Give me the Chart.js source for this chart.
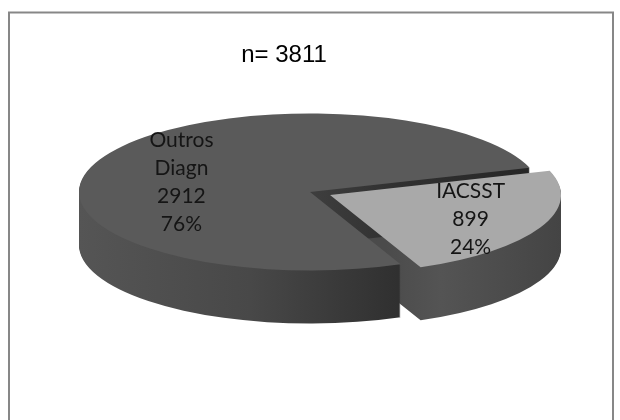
<!DOCTYPE html>
<html>
<head>
<meta charset="utf-8">
<script src="https://cdn.jsdelivr.net/npm/chart.js@4.4.1/dist/chart.umd.min.js"></script>
<style>
  html, body { margin: 0; padding: 0; background: #ffffff; }
  canvas { display: block; }
</style>
</head>
<body>
<canvas id="chart" width="620" height="420"></canvas>
<script>
// Diagnoses split
const categories = ['IACSST', 'Outros Diagn'];
const counts = [899, 2912];

const total = counts.reduce((a, b) => a + b, 0);

// 3D look of the pie: tilt of the disc and its thickness
const TILT = 0.34;
const DEPTH = 53;

const topColors = ['#a9a9a9', '#5a5a5a'];
const sideStops = [
  [[0, '#4a4a4a'], [0.62, '#4b4b4b'], [0.74, '#545454'], [1, '#444444']],
  [[0, '#555555'], [0.37, '#484848'], [0.69, '#303030'], [1, '#262626']]
];

function labelLines(i) {
  const pct = Math.round(counts[i] / total * 100) + '%';
  return categories[i].split(' ').concat([String(counts[i]), pct]);
}

// Draws the pie arcs as a tilted, extruded disc
const pie3d = {
  id: 'pie3d',
  beforeDraw(chart) {
    const ctx = chart.ctx;
    ctx.save();
    ctx.strokeStyle = '#878787';
    ctx.lineWidth = 2;
    ctx.strokeRect(9, 12.5, 604, 430);
    ctx.restore();
  },
  beforeDatasetsDraw(chart) {
    const ctx = chart.ctx;
    const arcs = chart.getDatasetMeta(0).data;
    const cx = arcs[0].x, R = arcs[0].outerRadius;
    const order = arcs.map((a, i) => i)
      .sort((a, b) => (arcs[b].options.offset || 0) - (arcs[a].options.offset || 0));

    const paint = (arc, fill, dz) => {
      const opts = arc.options;
      const off = opts.offset || 0;
      const mid = (arc.startAngle + arc.endAngle) / 2;
      ctx.save();
      ctx.translate(0, arc.y + dz);
      ctx.scale(1, TILT);
      ctx.translate(Math.cos(mid) * off, -arc.y + Math.sin(mid) * off);
      arc.options = Object.assign({}, opts, { backgroundColor: fill, offset: 0, borderWidth: 0 });
      arc.draw(ctx);
      arc.options = opts;
      ctx.restore();
    };

    // side walls, bottom layer first
    order.forEach(i => {
      const arc = arcs[i];
      const grad = ctx.createLinearGradient(cx - R, 0, cx + R, 0);
      sideStops[i].forEach(([p, c]) => grad.addColorStop(p, c));
      for (let dz = DEPTH; dz >= 1; dz--) paint(arc, grad, dz);
    });
    // top faces
    order.forEach(i => paint(arcs[i], topColors[i], 0));
    return false;
  },
  afterDraw(chart) {
    const ctx = chart.ctx;
    const arcs = chart.getDatasetMeta(0).data;
    ctx.save();
    // title
    ctx.fillStyle = '#000000';
    ctx.font = '24px "Liberation Sans", Arial, sans-serif';
    ctx.textAlign = 'center';
    ctx.textBaseline = 'alphabetic';
    ctx.fillText('n= ' + total, 284, 62);

    // data labels on the top faces
    ctx.font = '21px Lato, "Open Sans", sans-serif';
    ctx.fillStyle = '#151515';
    ctx.textBaseline = 'middle';
    const LINE = 28;
    arcs.forEach((arc, i) => {
      const off = arc.options.offset || 0;
      const mid = (arc.startAngle + arc.endAngle) / 2;
      const R = arc.outerRadius;
      const x = arc.x + Math.cos(mid) * (off + R * 0.64) + 6;
      const y = arc.y + TILT * (Math.sin(mid) * (off + R * 0.53)) + 7;
      const lines = labelLines(i);
      const y0 = y - (lines.length - 1) * LINE / 2;
      lines.forEach((t, k) => ctx.fillText(t, x, y0 + k * LINE));
    });
    ctx.restore();
  }
};

new Chart(document.getElementById('chart'), {
  type: 'pie',
  data: {
    labels: categories,
    datasets: [{
      data: counts,
      backgroundColor: topColors,
      borderWidth: 0,
      offset: [22, 0]
    }]
  },
  options: {
    responsive: false,
    animation: false,
    devicePixelRatio: 1,
    events: [],
    rotation: 72,
    radius: 231,
    layout: { padding: { left: 0, right: 0, top: 0, bottom: 36 } },
    plugins: {
      legend: { display: false },
      tooltip: { enabled: false },
      title: { display: false }
    }
  },
  plugins: [pie3d]
});
</script>
</body>
</html>
